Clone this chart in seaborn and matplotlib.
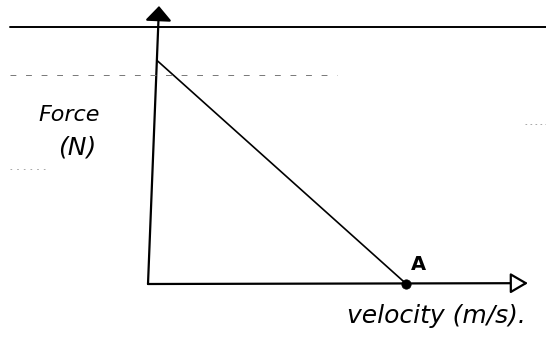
import matplotlib
matplotlib.use("Agg")
import matplotlib.pyplot as plt
from matplotlib.lines import Line2D
import pandas as pd
import seaborn as sns

# sketch values (arbitrary units, axes run 0..10)
velocity = [0.23, 6.8]
force = [8.05, 0.0]
point_a_velocity = [6.8]
point_a_force = [0.0]
point_label = "A"
x_label = "velocity (m/s)."
y_label_top = "Force"
y_label_bottom = "(N)"

sns.set_style("white")
plt.rcParams["font.family"] = ["DejaVu Sans"]
plt.rcParams["text.color"] = "black"

W, H = 546, 345
fig = plt.figure(figsize=(W / 100, H / 100), dpi=100)
ax = fig.add_axes([148 / W, 61 / H, 380 / W, 278 / H])
ax.set_xlim(0, 10)
ax.set_ylim(0, 10)
ax.axis("off")

# notebook rules behind the sketch
fig.add_artist(Line2D([10 / W, 1.0], [1 - 27 / H, 1 - 27 / H], transform=fig.transFigure,
                      color="black", lw=1.4))
fig.add_artist(Line2D([10 / W, 337 / W], [1 - 75 / H, 1 - 75 / H], transform=fig.transFigure,
                      color="#777777", lw=0.7, dashes=(6, 10)))
fig.add_artist(Line2D([10 / W, 45 / W], [1 - 169 / H, 1 - 169 / H], transform=fig.transFigure,
                      color="#999999", lw=0.6, dashes=(2, 6)))
fig.add_artist(Line2D([525 / W, 1.0], [1 - 124 / H, 1 - 124 / H], transform=fig.transFigure,
                      color="#999999", lw=0.6, dashes=(2, 4)))

# hand drawn axes
ax.annotate("", xy=(0.29, 10.0), xytext=(0, 0), annotation_clip=False,
            arrowprops=dict(arrowstyle="-|>,head_length=0.5,head_width=0.45",
                            mutation_scale=18, lw=1.6, color="black",
                            shrinkA=0, shrinkB=0))
ax.annotate("", xy=(10.0, 0.03), xytext=(0, 0), annotation_clip=False,
            arrowprops=dict(arrowstyle="-|>,head_length=0.6,head_width=0.35",
                            mutation_scale=18, lw=1.6, fc="white", ec="black",
                            shrinkA=0, shrinkB=0))

df = pd.DataFrame({"velocity": velocity, "force": force})
sns.lineplot(data=df, x="velocity", y="force", ax=ax, color="black", lw=1.2)
sns.scatterplot(x=point_a_velocity, y=point_a_force, ax=ax, color="black", s=45,
                edgecolor="black", zorder=5, clip_on=False)
ax.annotate(point_label, (point_a_velocity[0], point_a_force[0]), xytext=(12, 19),
            textcoords="offset pixels", ha="center", va="center",
            fontsize=14, fontweight="bold")

fig.text(436 / W, 1 - 316 / H, x_label, ha="center", va="center",
         fontsize=18, style="italic")
fig.text(69 / W, 1 - 115 / H, y_label_top, ha="center", va="center",
         fontsize=16, style="italic")
fig.text(77 / W, 1 - 148 / H, y_label_bottom, ha="center", va="center",
         fontsize=18, style="italic")

fig.savefig("out.png", dpi=100)
